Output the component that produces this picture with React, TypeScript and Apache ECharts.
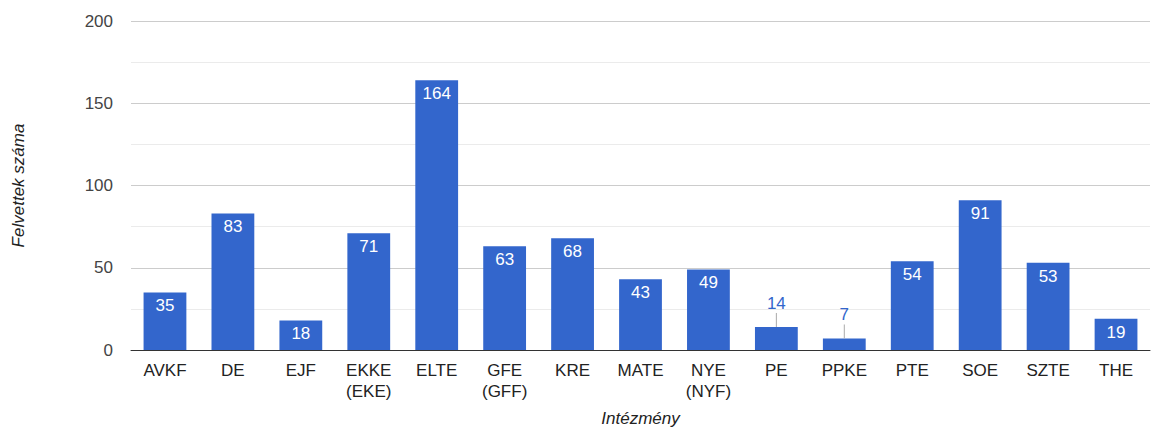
import React, { useEffect, useRef } from "react";
import * as echarts from "echarts";

const categories = ["AVKF", "DE", "EJF", "EKKE\n(EKE)", "ELTE", "GFE\n(GFF)", "KRE", "MATE", "NYE\n(NYF)", "PE", "PPKE", "PTE", "SOE", "SZTE", "THE"];
const values = [35, 83, 18, 71, 164, 63, 68, 43, 49, 14, 7, 54, 91, 53, 19];
const yTicks = [0, 50, 100, 150, 200];
const outsideThreshold = 15;

const FONT = "Arial, 'Liberation Sans', sans-serif";
const BLUE = "#3366cc";
const FS = 17;

export default function App() {
  const ref = useRef<HTMLDivElement>(null);
  useEffect(() => {
    if (!ref.current) return;
    const chart = echarts.init(ref.current, undefined, { renderer: "svg" });
    const barData = values.map((v) => ({
      value: v,
      label: v < outsideThreshold
        ? { show: true, position: "top", distance: 15, color: BLUE }
        : { show: true, position: "insideTop", distance: 5, color: "#ffffff" },
    }));
    chart.setOption({
      animation: false,
      textStyle: { fontFamily: FONT },
      grid: { left: 131, right: 14, top: 21, bottom: 78, containLabel: false, outerBoundsMode: "none" },
      xAxis: {
        type: "category",
        data: categories,
        name: "Intézmény",
        nameLocation: "middle",
        nameGap: 60,
        nameTextStyle: { fontStyle: "italic", fontSize: FS, color: "#222", fontFamily: FONT },
        axisLine: { lineStyle: { color: "#333", width: 1 } },
        axisTick: { show: false },
        axisLabel: { fontSize: FS, color: "#222", margin: 10, lineHeight: 21, interval: 0, fontFamily: FONT },
      },
      yAxis: {
        type: "value",
        min: yTicks[0],
        max: yTicks[yTicks.length - 1],
        interval: 50,
        name: "Felvettek száma",
        nameLocation: "middle",
        nameGap: 104,
        nameRotate: 90,
        nameTextStyle: { fontStyle: "italic", fontSize: FS, color: "#222", fontFamily: FONT },
        axisLine: { show: false },
        axisTick: { show: false },
        axisLabel: { fontSize: FS, color: "#444", margin: 18, fontFamily: FONT },
        splitLine: { lineStyle: { color: "#cccccc" } },
        minorTick: { show: false, splitNumber: 2 },
        minorSplitLine: { show: true, lineStyle: { color: "#ebebeb" } },
      },
      series: [
        {
          type: "bar",
          data: barData,
          barWidth: "63%",
          itemStyle: { color: BLUE },
          label: { fontSize: FS, fontFamily: FONT },
          z: 2,
        },
        {
          type: "custom",
          data: values.map((v, i) => [i, v]).filter((d) => d[1] < outsideThreshold),
          renderItem: (params: any, api: any) => {
            const p = api.coord([api.value(0), api.value(1)]);
            return {
              type: "line",
              shape: { x1: p[0], y1: p[1], x2: p[0], y2: p[1] - 14 },
              style: { stroke: "#aaaaaa", lineWidth: 1 },
            };
          },
          z: 3,
          silent: true,
        },
      ],
    });
    return () => chart.dispose();
  }, []);
  return <div ref={ref} style={{ width: 1164, height: 428, position: "absolute", left: 0, top: 0 }} />;
}
